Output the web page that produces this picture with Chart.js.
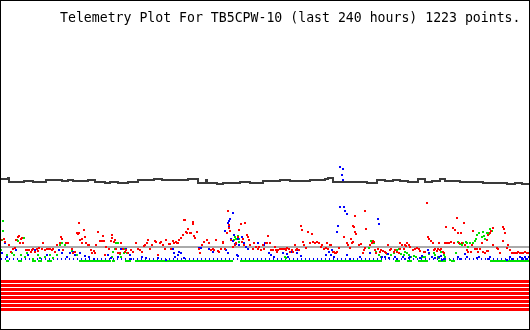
<!DOCTYPE html>
<html>
<head>
<meta charset="utf-8">
<script src="https://cdn.jsdelivr.net/npm/chart.js@4.4.1/dist/chart.umd.min.js"></script>
<style>
  body { margin: 0; background: #fff; }
  #frame { position: relative; width: 530px; height: 330px; box-sizing: border-box; border: 1px solid #000; background: #fff; }
  #plot { position: absolute; left: 0; top: 0; }
  #title { position: absolute; left: 59px; top: 9px; font: 13.2px "DejaVu Sans Mono", monospace; line-height: 15px; white-space: pre; color: #000; }
</style>
</head>
<body>
<div id="frame">
  <canvas id="plot" width="528" height="328"></canvas>
  <div id="title">Telemetry Plot For TB5CPW-10 (last 240 hours) 1223 points.</div>
</div>
<script>
// time runs 1..529 across the plot, values are plot units above the bottom edge
const timeSpan = [1, 529];

// channel 1 (dark trace), [t, value]
const darkTrace = [
  [1,151],[8,152],[9,148],[16,148],[24,149],[33,148],[40,148],[46,150],[54,150],[62,149],[68,150],[73,149],
  [80,149],[88,150],[95,148],[105,147],[110,148],[118,147],[128,148],[138,150],[146,150],[154,151],[162,150],
  [170,150],[180,150],[188,151],[198,147],[206,150],[207,147],[212,147],[217,146],[223,147],[230,147],[240,148],
  [250,147],[263,149],[272,149],[280,150],[290,149],[300,149],[310,150],[320,150],[325,151],[328,152],[333,148],
  [340,148],[350,148],[358,148],[367,147],[377,150],[385,149],[393,150],[400,149],[408,148],[418,151],[425,148],
  [432,149],[440,151],[445,149],[452,149],[460,148],[468,148],[476,148],[483,147],[490,147],[498,147],[507,146],
  [515,147],[522,146],[529,146]
];

// reference level (gray)
const refLevel = 83;

// red channel samples
const redPoints = [
  [1,90],[4,91],[5,88],[9,85],[11,78],[13,81],[15,82],[16,90],[18,93],[19,94],[20,87],[21,91],[22,92],[23,87],
  [26,80],[28,80],[29,80],[31,78],[32,80],[33,81],[35,78],[37,81],[38,79],[39,82],[42,81],[43,87],[45,80],[47,81],
  [49,81],[50,81],[52,80],[53,81],[55,78],[57,85],[60,87],[61,93],[62,91],[63,80],[66,87],[68,87],[72,81],[73,77],
  [75,78],[77,97],[78,96],[79,97],[79,107],[80,90],[82,91],[82,87],[84,100],[85,93],[86,87],[88,85],
  [89,85],[91,80],[92,77],[94,79],[95,77],[96,85],[98,98],[100,89],[102,89],[103,94],[104,89],[105,75],[106,83],
  [109,81],[111,89],[112,95],[112,92],[114,88],[115,90],[116,81],[118,77],[120,77],[121,87],[123,81],[125,78],
  [126,80],[128,77],[131,80],[133,78],[136,87],[138,81],[140,80],[142,78],[144,84],[145,85],[147,87],[148,90],
  [150,81],[152,85],[155,89],[156,88],[158,75],[160,87],[161,88],[163,85],[165,81],[166,90],[169,86],[170,86],
  [171,81],[173,89],[174,87],[176,88],[177,87],
  [178,87],[179,90],[181,92],[183,95],[184,110],[185,110],[186,98],[187,97],[188,101],[190,97],[191,97],[193,108],
  [193,106],[194,94],[195,92],[197,98],[199,81],[200,77],[202,85],[204,88],[207,90],[209,87],[211,80],[213,81],
  [214,80],[216,90],[218,79],[219,78],[221,81],[223,88],[223,87],[225,81],[227,97],[228,119],[229,105],[229,102],
  [230,99],[231,90],[233,83],[235,85],[236,87],[238,93],[239,100],[241,106],[242,88],[243,91],[244,85],[245,107],
  [247,95],[248,93],[249,90],[250,85],[253,81],[254,87],[256,83],[258,81],[259,83],[261,80],[263,85],[264,81],
  [266,87],[267,87],[268,94],[270,87],[271,80],[273,80],[275,83],[276,80],[277,78],[278,80],[280,81],[282,81],
  [283,81],[285,81],[286,80],[287,82],[289,81],[290,78],[292,80],[293,78],[295,85],[296,80],[297,81],[299,80],
  [301,104],[302,100],[303,88],[304,85],[306,82],[308,98],[310,87],[312,96],[313,88],[315,87],[317,88],[319,87],
  [321,83],[322,85],[324,81],[326,82],[327,87],[328,81],[330,85],[331,85],[333,78],[334,78],[335,77],[336,77],
  [337,78],[339,82],[344,93],[347,87],[348,85],[350,82],[351,91],[352,87],[353,104],
  [353,88],[354,103],[355,114],[355,98],[356,96],[359,85],[361,86],[363,77],[364,80],[365,82],[365,119],[366,101],
  [370,85],[372,87],[373,89],[374,88],[375,80],[376,77],[378,81],[380,78],[381,80],[383,79],[385,78],[386,77],
  [388,85],[390,80],[391,81],[394,78],[395,80],[397,78],[399,77],[400,81],[400,87],[402,85],[404,81],[405,85],
  [406,84],[407,87],[409,85],[410,83],[413,80],[415,81],[417,82],[419,81],[420,79],[424,78],[425,78],[427,127],
  [428,93],[429,91],[431,89],[433,87],[434,80],[435,81],[437,79],[438,81],[439,87],[440,80],
  [441,81],[443,78],[444,77],[445,87],[446,103],[447,87],[449,87],[451,88],[453,102],[454,87],[455,100],[457,112],
  [458,97],[459,87],[461,97],[462,87],[464,107],[465,85],[467,80],[468,78],[471,78],[472,85],[473,99],[475,81],
  [477,81],[478,78],[480,81],[482,87],[483,78],[485,77],[487,79],[487,90],[488,79],[488,95],[490,97],[491,99],
  [493,102],[493,85],[497,82],[498,81],[500,77],[503,89],[503,103],[504,101],[505,97],[507,82],[508,85],[510,80],
  [512,77],[513,77],[515,77],[517,77],[518,78],[520,77],[522,77],[523,77],[525,78],[527,77],[529,77]
];

// blue channel samples above its resting level
const bluePoints = [
  [2,77],[5,87],[7,73],[16,80],[28,75],[35,80],[47,75],[59,80],[62,77],[67,73],[70,77],[73,78],[75,75],[80,77],[85,74],
  [89,73],[94,71],[108,75],[111,72],[118,73],[121,81],[126,81],[128,77],[130,75],[131,71],[142,73],[146,72],[158,72],
  [166,70],[173,81],[174,77],[175,73],
  [178,75],[179,78],[181,77],[184,72],[199,82],[201,82],[209,81],[213,78],[225,99],[226,80],[228,107],[228,77],
  [229,103],[229,109],[230,111],[231,91],[233,117],[233,89],[234,95],[235,86],[236,86],[237,75],[238,74],[238,91],
  [239,85],[242,93],[244,87],[246,83],[248,81],[258,87],[265,87],
  [264,85],[267,87],[269,77],[271,75],[274,73],[283,77],[285,81],[287,76],[288,73],[290,78],[291,78],[297,80],
  [297,77],[301,74],[326,75],[329,78],[331,75],[332,80],[334,73],[337,98],[338,104],[340,123],[340,163],[342,155],
  [343,161],[343,150],[344,123],[345,119],[347,116],[347,75],[350,71],
  [360,73],[370,77],[378,111],[379,106],[382,73],[385,73],[388,76],[389,72],[395,73],[397,71],[403,73],[405,71],
  [409,72],[410,73],[420,72],[422,74],[428,80],[429,77],[432,73],[435,72],[439,73],[441,74],
  [442,70],[444,71],[458,73],[460,71],[465,76],[467,73],[477,72],[479,73],[482,87],[488,71],[490,73],[507,70],
  [510,73],[512,71],[520,73],[522,72],[523,71],[525,73],[527,71],[529,73]
];
const blueRest = 71;

// green channel samples above its resting level
const greenPoints = [
  [1,80],[2,90],[3,99],[3,109],[7,75],[12,77],[14,75],[17,90],[18,89],[21,75],[24,92],[25,73],[27,77],[33,71],
  [38,75],[40,72],[45,73],[50,75],[53,72],[57,75],[60,85],[62,87],[65,85],[68,87],[72,79],[77,75],
  [112,73],[113,78],[115,81],[116,87],[118,87],[120,76],[121,73],[124,77],[125,81],[127,77],
  [234,90],[235,93],[236,91],[238,94],[239,91],[239,88],[285,73],[286,72],
  [369,82],[371,89],[374,87],[376,78],[379,75],[381,73],[385,78],[387,76],[391,75],[394,77],[397,80],[399,81],
  [401,76],[404,75],[405,78],[407,77],[409,75],[411,73],[414,74],[416,73],[422,73],[424,73],[425,73],[429,76],
  [432,73],[434,77],[435,75],[438,73],[439,72],
  [441,78],[444,75],[445,73],[450,70],[456,77],[458,88],[460,86],[462,85],[463,87],[466,88],[467,87],[468,83],
  [470,87],[472,85],[473,87],[475,89],[476,91],[477,95],[479,97],[482,93],[483,98],[484,94],[485,91],[487,97],
  [488,97],[489,96],[490,101],[492,99]
];
// runs where green sits at rest
const greenRest = 69;
const greenRunStart = [6, 18, 32, 38, 47, 79, 112, 125, 135, 240, 395, 407, 418, 438, 451, 490];
const greenRunEnd   = [9, 22, 36, 42, 52, 111, 115, 131, 233, 382, 400, 412, 428, 446, 455, 529];

// digital bits B1..B8 (all on)
const bitNames = ["B1", "B2", "B3", "B4", "B5", "B6", "B7", "B8"];
const bitLevels = [48.5, 44.5, 40.5, 36.5, 32.5, 28.5, 24.5, 20.5];

function toXY(list) {
  return list.map(([x, y]) => ({ x, y }));
}

function marker(color) {
  const c = document.createElement("canvas");
  c.width = 2;
  c.height = 2;
  const g = c.getContext("2d");
  g.fillStyle = color;
  g.fillRect(0, 0, 2, 2);
  return c;
}

function dots(label, list, color, order) {
  return {
    label,
    data: toXY(list),
    showLine: false,
    pointStyle: marker(color),
    pointRadius: 1,
    pointHoverRadius: 1,
    order
  };
}

function flatLine(label, level, color, width, order, extra) {
  return Object.assign({
    label,
    data: [{ x: timeSpan[0], y: level }, { x: timeSpan[1], y: level }],
    borderColor: color,
    borderWidth: width,
    pointRadius: 0,
    order
  }, extra || {});
}

const greenRuns = [];
greenRunStart.forEach((s, i) => {
  greenRuns.push({ x: s, y: greenRest }, { x: greenRunEnd[i], y: greenRest }, { x: greenRunEnd[i] + 0.5, y: null });
});

const datasets = [];
bitNames.forEach((name, i) => {
  datasets.push(flatLine(name, bitLevels[i], "#ff0000", 3, 20));
});
datasets.push(flatLine("Reference", refLevel, "#aaaaaa", 2, 12));
datasets.push({
  label: "Channel 1",
  data: toXY(darkTrace),
  borderColor: "#3a3a3a",
  borderWidth: 2,
  stepped: true,
  pointRadius: 0,
  order: 10
});
datasets.push({
  label: "Green rest",
  data: greenRuns,
  borderColor: "#00e000",
  borderWidth: 2,
  pointRadius: 0,
  spanGaps: false,
  order: 8
});
datasets.push(flatLine("Blue rest", blueRest, "#0000ff", 2, 7, { borderDash: [1, 3] }));
datasets.push(dots("Green", greenPoints, "#00e000", 5));
datasets.push(dots("Blue", bluePoints, "#0000ff", 4));
datasets.push(dots("Red", redPoints, "#ff0000", 3));

new Chart(document.getElementById("plot"), {
  type: "line",
  data: { datasets },
  options: {
    responsive: false,
    animation: false,
    events: [],
    layout: { padding: 0, autoPadding: false },
    elements: { line: { tension: 0 } },
    plugins: {
      legend: { display: false },
      title: { display: false },
      tooltip: { enabled: false }
    },
    scales: {
      x: { type: "linear", min: timeSpan[0], max: timeSpan[1], display: false },
      y: { min: 1, max: 329, display: false }
    }
  }
});
</script>
</body>
</html>
